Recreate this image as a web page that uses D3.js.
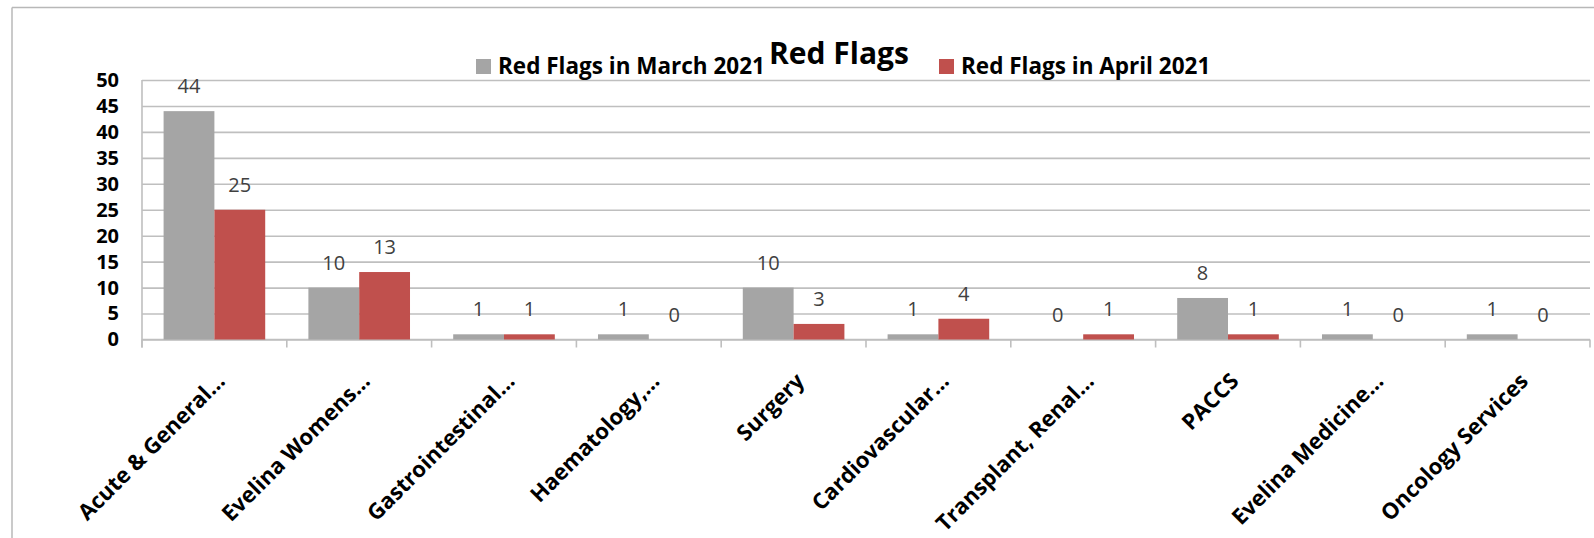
<!DOCTYPE html>
<html>
<head>
<meta charset="utf-8">
<script src="https://cdn.jsdelivr.net/npm/d3@7"></script>
<style>
  html, body { margin: 0; padding: 0; background: #fff; }
  svg { display: block; font-family: "Open Sans", Lato, sans-serif; }
</style>
</head>
<body>
<svg id="chart" width="1594" height="538"></svg>
<script>
// Directorate names (truncated as displayed on the axis)
const categories = [
  "Acute & General…",
  "Evelina Womens…",
  "Gastrointestinal…",
  "Haematology,…",
  "Surgery",
  "Cardiovascular…",
  "Transplant, Renal…",
  "PACCS",
  "Evelina Medicine…",
  "Oncology Services"
];
const seriesNames = ["Red Flags in March 2021", "Red Flags in April 2021"];
const march2021 = [44, 10, 1, 1, 10, 1, 0, 8, 1, 1];
const april2021 = [25, 13, 1, 0, 3, 4, 1, 1, 0, 0];
const seriesColors = ["#A5A5A5", "#C0504D"];
const yTicks = [0, 5, 10, 15, 20, 25, 30, 35, 40, 45, 50];

const svg = d3.select("#chart");
const W = 1594, H = 538;
const plot = { left: 142, right: 1590, top: 80, bottom: 339.5 };
const gridColor = "#BFBFBF";

// Outer chart frame (top and left edges visible)
svg.append("line").attr("x1", 12).attr("x2", W).attr("y1", 7.5).attr("y2", 7.5)
  .attr("stroke", "#B8B8B8").attr("stroke-width", 1.5);
svg.append("line").attr("x1", 12).attr("x2", 12).attr("y1", 7.5).attr("y2", H)
  .attr("stroke", "#B8B8B8").attr("stroke-width", 1.5);

const x0 = d3.scaleBand().domain(categories).range([plot.left, plot.right]).padding(0);
const x1 = d3.scaleBand().domain(seriesNames).range([0, x0.bandwidth()])
  .paddingInner(0).paddingOuter(0.425);
const y = d3.scaleLinear().domain([0, 50]).range([plot.bottom, plot.top]);

// Horizontal gridlines + y labels
const yAxis = d3.axisLeft(y).tickValues(yTicks).tickSize(plot.left - plot.right).tickPadding(23);
const gy = svg.append("g").attr("transform", `translate(${plot.left},0)`).call(yAxis);
gy.select(".domain").remove();
gy.selectAll(".tick line").attr("stroke", gridColor).attr("stroke-width", 1.6);
gy.selectAll(".tick text")
  .attr("fill", "#000").attr("font-size", 20).attr("font-weight", "bold")
  .attr("font-family", "'Open Sans', sans-serif");

// Vertical axis line
svg.append("line").attr("x1", plot.left).attr("x2", plot.left)
  .attr("y1", plot.top).attr("y2", plot.bottom + 8)
  .attr("stroke", gridColor).attr("stroke-width", 1.6);
// Category axis line and tick marks at band boundaries
svg.append("line").attr("x1", plot.left).attr("x2", plot.right)
  .attr("y1", plot.bottom).attr("y2", plot.bottom)
  .attr("stroke", gridColor).attr("stroke-width", 1.6);
const boundaries = categories.map(c => x0(c)).concat([plot.right]);
svg.append("g").selectAll("line").data(boundaries).join("line")
  .attr("x1", d => d).attr("x2", d => d)
  .attr("y1", plot.bottom).attr("y2", plot.bottom + 8)
  .attr("stroke", gridColor).attr("stroke-width", 1.6);

// Bars
const rows = categories.map((c, i) => ({ cat: c, vals: [march2021[i], april2021[i]] }));
const groups = svg.append("g").selectAll("g").data(rows).join("g")
  .attr("transform", d => `translate(${x0(d.cat)},0)`);
groups.selectAll("rect").data(d => d.vals.map((v, k) => ({ v, k })))
  .join("rect")
  .attr("x", d => x1(seriesNames[d.k]))
  .attr("width", x1.bandwidth())
  .attr("y", d => y(d.v))
  .attr("height", d => y(0) - y(d.v))
  .attr("fill", d => seriesColors[d.k]);

// Value labels
groups.selectAll("text").data(d => d.vals.map((v, k) => ({ v, k })))
  .join("text")
  .attr("x", d => x1(seriesNames[d.k]) + x1.bandwidth() / 2)
  .attr("y", d => y(d.v) - 18)
  .attr("text-anchor", "middle")
  .attr("font-size", 20)
  .attr("fill", "#404040")
  .text(d => d.v);

// Category labels rotated 45°
svg.append("g").selectAll("text").data(categories).join("text")
  .attr("transform", d => `translate(${x0(d) + x0.bandwidth() / 2 + 12},${plot.bottom + 43}) rotate(-45)`)
  .attr("text-anchor", "end")
  .attr("font-size", 22)
  .attr("font-weight", "bold")
  .attr("fill", "#000")
  .text(d => d);

// Title
svg.append("text").attr("x", 839).attr("y", 64).attr("text-anchor", "middle")
  .attr("font-size", 30).attr("font-weight", "bold").attr("fill", "#000")
  .text("Red Flags");

// Legend
const legendPos = [476, 939];
const lg = svg.append("g").selectAll("g").data(seriesNames).join("g")
  .attr("transform", (d, i) => `translate(${legendPos[i]},59)`);
lg.append("rect").attr("width", 15).attr("height", 15)
  .attr("fill", (d, i) => seriesColors[i]);
lg.append("text").attr("x", 22).attr("y", 15)
  .attr("font-size", 22.5).attr("font-weight", "bold").attr("fill", "#000")
  .text(d => d);
</script>
</body>
</html>
